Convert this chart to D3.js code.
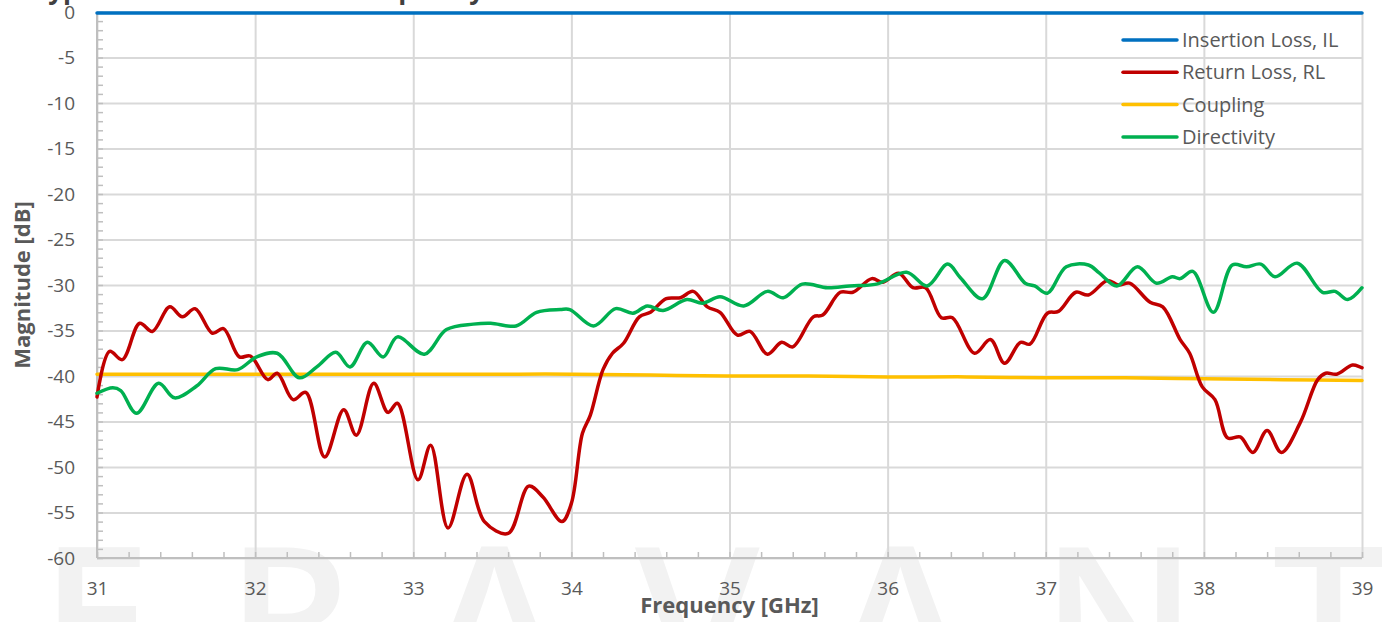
<!DOCTYPE html>
<html>
<head>
<meta charset="utf-8">
<script src="https://cdn.jsdelivr.net/npm/d3@7"></script>
<style>
  body { margin: 0; background: #fff; }
  svg { display: block; }
</style>
</head>
<body>
<div id="chart"></div>
<script>
// tick labels
const xTicks = [31, 32, 33, 34, 35, 36, 37, 38, 39];
const yTicks = [0, -5, -10, -15, -20, -25, -30, -35, -40, -45, -50, -55, -60];

// Insertion Loss, IL
const ilFreq = [31, 32, 33, 34, 35, 36, 37, 38, 39];
const ilValues = [-0.1, -0.1, -0.1, -0.1, -0.1, -0.1, -0.1, -0.1, -0.1];

// Return Loss, RL
const rlFreq = [31.00, 31.08, 31.16, 31.27, 31.35, 31.46, 31.54, 31.62, 31.73, 31.80,
  31.90, 31.97, 32.08, 32.14, 32.24, 32.32, 32.44, 32.56, 32.64, 32.75,
  32.84, 32.90, 33.03, 33.11, 33.22, 33.34, 33.45, 33.60, 33.73, 33.82,
  33.94, 34.00, 34.07, 34.12, 34.20, 34.26, 34.33, 34.43, 34.50, 34.60,
  34.69, 34.77, 34.86, 34.94, 35.05, 35.13, 35.24, 35.33, 35.40, 35.53,
  35.59, 35.70, 35.78, 35.90, 35.97, 36.07, 36.16, 36.24, 36.34, 36.41,
  36.55, 36.65, 36.74, 36.84, 36.90, 37.01, 37.08, 37.19, 37.27, 37.39,
  37.46, 37.53, 37.66, 37.74, 37.85, 37.91, 37.99, 38.07, 38.15, 38.23,
  38.31, 38.40, 38.49, 38.61, 38.72, 38.77, 38.84, 38.94, 39.00];
const rlValues = [-42.3, -37.3, -38.2, -34.2, -35.1, -32.4, -33.5, -32.6, -35.3, -34.8,
  -37.9, -37.8, -40.4, -39.7, -42.6, -41.8, -48.9, -43.7, -46.5, -40.8,
  -44.0, -43.0, -51.4, -47.6, -56.7, -50.8, -56.0, -57.3, -52.1, -53.3,
  -56.0, -54.0, -46.3, -44.3, -39.3, -37.5, -36.4, -33.5, -33.0, -31.5,
  -31.4, -30.7, -32.4, -33.0, -35.5, -35.1, -37.6, -36.3, -36.8, -33.5,
  -33.3, -30.8, -30.8, -29.3, -29.7, -28.7, -30.3, -30.3, -33.6, -33.6,
  -37.5, -36.0, -38.6, -36.3, -36.5, -33.1, -32.9, -30.8, -31.1, -29.5,
  -30.0, -29.8, -31.9, -32.4, -36.0, -37.5, -41.2, -42.6, -46.8, -46.7,
  -48.4, -46.0, -48.4, -45.1, -40.4, -39.7, -39.8, -38.8, -39.1];

// Coupling
const cplFreq = [31, 31.5, 32, 32.5, 33, 33.5, 34, 34.5, 35, 35.5, 36, 36.5, 37, 37.5, 38, 38.5, 39];
const cplValues = [-39.8, -39.8, -39.8, -39.8, -39.8, -39.8, -39.8, -39.9, -40.0, -40.0,
  -40.1, -40.1, -40.2, -40.2, -40.3, -40.4, -40.5];

// Directivity
const dirFreq = [31.00, 31.10, 31.15, 31.25, 31.39, 31.49, 31.63, 31.75, 31.89, 32.01,
  32.14, 32.28, 32.39, 32.51, 32.60, 32.71, 32.81, 32.90, 33.07, 33.21,
  33.38, 33.49, 33.65, 33.78, 33.93, 33.99, 34.14, 34.28, 34.39, 34.48,
  34.58, 34.73, 34.83, 34.94, 35.09, 35.24, 35.34, 35.46, 35.62, 35.76,
  35.93, 36.12, 36.25, 36.38, 36.46, 36.60, 36.74, 36.87, 36.93, 37.01,
  37.13, 37.27, 37.34, 37.45, 37.58, 37.70, 37.80, 37.85, 37.93, 38.06,
  38.18, 38.27, 38.36, 38.45, 38.59, 38.75, 38.83, 38.91, 39.00];
const dirValues = [-41.9, -41.3, -41.6, -44.1, -40.8, -42.4, -41.1, -39.2, -39.3, -37.9,
  -37.5, -40.2, -39.0, -37.4, -39.0, -36.3, -37.9, -35.7, -37.6, -34.9,
  -34.3, -34.2, -34.5, -33.0, -32.7, -32.7, -34.5, -32.6, -33.1, -32.3,
  -32.8, -31.6, -32.0, -31.3, -32.3, -30.7, -31.4, -29.9, -30.3, -30.1,
  -29.9, -28.6, -30.1, -27.7, -29.2, -31.5, -27.3, -29.8, -30.1, -30.9,
  -28.0, -27.8, -28.7, -30.1, -28.0, -29.8, -29.1, -29.3, -28.5, -33.0,
  -27.8, -28.0, -27.7, -29.1, -27.6, -30.8, -30.7, -31.6, -30.3];

const series = [
  {name: "Insertion Loss, IL", color: "#0070c0", f: ilFreq, v: ilValues},
  {name: "Return Loss, RL", color: "#c00000", f: rlFreq, v: rlValues},
  {name: "Coupling", color: "#ffc000", f: cplFreq, v: cplValues},
  {name: "Directivity", color: "#00b050", f: dirFreq, v: dirValues}
];

const W = 1390, H = 622;
const margin = {top: 12, right: 28, bottom: 64, left: 97};
const width = W - margin.left - margin.right;
const height = H - margin.top - margin.bottom;
const font = "'Open Sans', 'DejaVu Sans', sans-serif";

const svg = d3.select("#chart").append("svg")
  .attr("width", W).attr("height", H)
  .style("font-family", font);

// watermark and cut-off title, behind everything
svg.append("text")
  .attr("x", 40).attr("y", 690)
  .attr("textLength", 1345).attr("lengthAdjust", "spacing")
  .attr("font-family", "'Open Sans', sans-serif")
  .attr("font-size", 200).attr("font-weight", 600)
  .attr("fill", "#f2f2f2")
  .text("ERAVANT");

svg.append("text")
  .attr("x", 484).attr("y", -1)
  .attr("text-anchor", "end")
  .attr("font-size", 26).attr("font-weight", 700)
  .attr("fill", "#404040")
  .text("Typical Performance vs. Frequency");

const x = d3.scaleLinear().domain([31, 39]).range([0, width]);
const y = d3.scaleLinear().domain([-60, 0]).range([height, 0]);

const g = svg.append("g").attr("transform", `translate(${margin.left},${margin.top})`);

// gridlines
g.append("g")
  .call(d3.axisLeft(y).tickValues(yTicks).tickSize(-width).tickFormat(""))
  .call(s => s.select(".domain").remove())
  .selectAll("line").attr("stroke", "#d9d9d9").attr("stroke-width", 2);
g.append("g")
  .call(d3.axisBottom(x).tickValues(xTicks).tickSize(height).tickFormat(""))
  .call(s => s.select(".domain").remove())
  .selectAll("line").attr("stroke", "#d9d9d9").attr("stroke-width", 2);

// minor ticks
g.append("g")
  .call(d3.axisRight(y).tickValues(d3.range(-60, 1, 1)).tickSize(6).tickFormat(""))
  .call(s => s.select(".domain").remove())
  .selectAll("line").attr("stroke", "#bfbfbf").attr("stroke-width", 1.5);
g.append("g")
  .attr("transform", `translate(0,${height})`)
  .call(d3.axisTop(x).tickValues(d3.range(31, 39.01, 0.2)).tickSize(6).tickFormat(""))
  .call(s => s.select(".domain").remove())
  .selectAll("line").attr("stroke", "#bfbfbf").attr("stroke-width", 1.5);

// axis lines
g.append("line").attr("x1", 0).attr("x2", 0).attr("y1", 0).attr("y2", height)
  .attr("stroke", "#bfbfbf").attr("stroke-width", 2);
g.append("line").attr("x1", 0).attr("x2", width).attr("y1", height).attr("y2", height)
  .attr("stroke", "#bfbfbf").attr("stroke-width", 2);

// tick labels (plain hyphen minus, as in the original)
const yAxis = g.append("g")
  .call(d3.axisLeft(y).tickValues(yTicks).tickSize(0).tickPadding(22).tickFormat(d => String(d)))
  .call(s => s.select(".domain").remove());
yAxis.selectAll("text").attr("font-size", 19).attr("fill", "#595959").attr("font-family", font);

const xAxis = g.append("g")
  .attr("transform", `translate(0,${height})`)
  .call(d3.axisBottom(x).tickValues(xTicks).tickSize(0).tickPadding(24).tickFormat(d => String(d)))
  .call(s => s.select(".domain").remove());
xAxis.selectAll("text").attr("font-size", 19).attr("fill", "#595959").attr("font-family", font);

// series
const line = d3.line()
  .x(d => x(d[0]))
  .y(d => y(d[1]))
  .curve(d3.curveCatmullRom.alpha(0.5));

// draw order: coupling, RL, directivity, IL on top
[2, 1, 3, 0].forEach(i => {
  const s = series[i];
  g.append("path")
    .datum(d3.zip(s.f, s.v))
    .attr("fill", "none")
    .attr("stroke", s.color)
    .attr("stroke-width", 3.5)
    .attr("stroke-linejoin", "round")
    .attr("stroke-linecap", "round")
    .attr("d", line);
});

// axis titles
svg.append("text")
  .attr("x", margin.left + width / 2).attr("y", 613)
  .attr("text-anchor", "middle")
  .attr("font-size", 22).attr("font-weight", 700).attr("fill", "#595959")
  .text("Frequency [GHz]");

svg.append("text")
  .attr("transform", "translate(30,285) rotate(-90)")
  .attr("text-anchor", "middle")
  .attr("font-size", 22).attr("font-weight", 700).attr("fill", "#595959")
  .text("Magnitude [dB]");

// legend
const legend = svg.append("g").attr("transform", "translate(1123,40)");
series.forEach((s, i) => {
  const row = legend.append("g").attr("transform", `translate(0,${i * 32.3})`);
  row.append("line").attr("x1", 0).attr("x2", 54)
    .attr("stroke", s.color).attr("stroke-width", 3.5).attr("stroke-linecap", "round");
  row.append("text").attr("x", 59).attr("dy", "0.35em")
    .attr("font-size", 20).attr("fill", "#595959")
    .text(s.name);
});
</script>
</body>
</html>
